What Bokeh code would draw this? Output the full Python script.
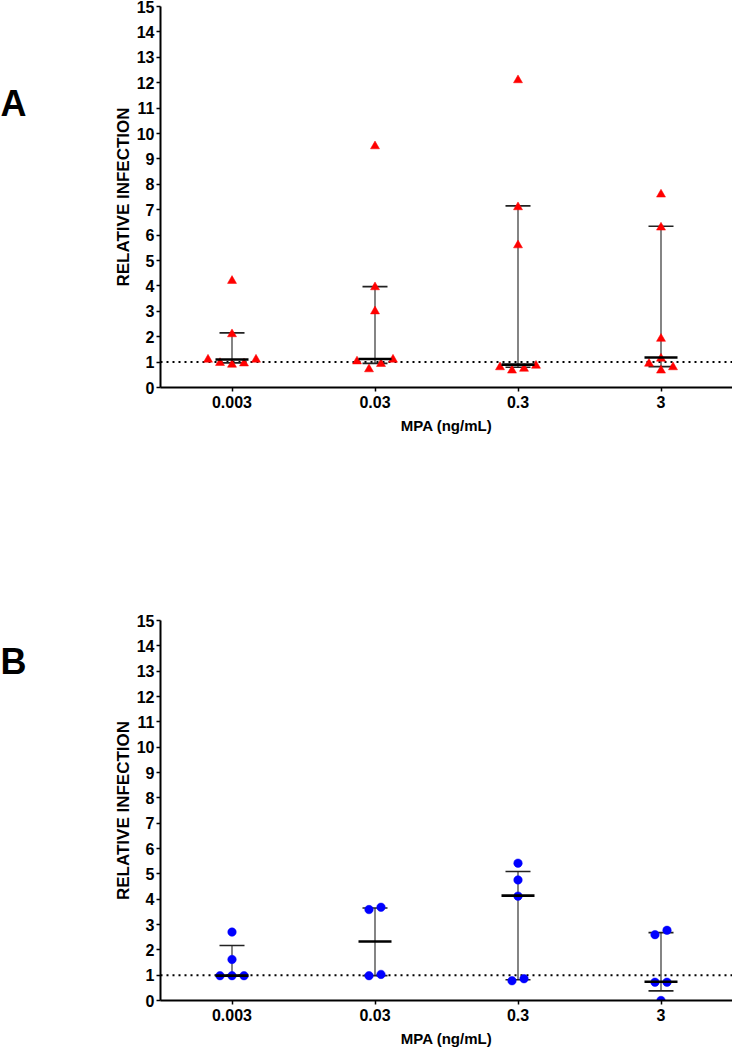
import numpy as np
from bokeh.plotting import figure
from bokeh.models import FixedTicker, Span, Range1d, ColumnDataSource
from bokeh.core.properties import value
from bokeh.layouts import column, row
from bokeh.embed import file_html
from bokeh.resources import INLINE

# ---------------- data ----------------
categories = ["0.003", "0.03", "0.3", "3"]
y_ticks = list(range(0, 16))
baseline = 1.0
panel_letters = ["A", "B"]

# Panel A (triangles): individual values per MPA concentration
a_points = [
    [4.2, 2.1, 1.1, 0.97, 0.9, 0.95, 1.1],
    [9.5, 3.95, 3.0, 1.03, 0.72, 0.93, 1.1],
    [12.1, 7.1, 5.6, 0.8, 0.67, 0.74, 0.86],
    [7.6, 6.3, 1.92, 1.14, 0.94, 0.67, 0.8],
]
a_median = [1.1, 1.12, 0.9, 1.18]
a_q1 = [0.97, 0.95, 0.8, 0.82]
a_q3 = [2.15, 3.97, 7.15, 6.35]

# Panel B (circles)
b_points = [
    [2.7, 1.62, 0.98, 0.98, 0.98],
    [3.68, 3.59, 0.98, 1.03],
    [5.42, 4.76, 4.12, 0.78, 0.86],
    [2.6, 2.77, 0.72, 0.72, 0.0],
]
b_median = [0.98, 2.33, 4.14, 0.74]
b_q1 = [0.98, 0.98, 0.82, 0.38]
b_q3 = [2.17, 3.65, 5.09, 2.68]

# ---------------- layout constants ----------------
FONT = "Liberation Sans"
LETTER_W = 40
LEFT = 120
FRAME_W = 572
X_START, X_END = 0.5, 4.5
PX_PER_X = FRAME_W / (X_END - X_START)
CAP_HALF_PX = 12.5
MED_HALF_PX = 16.5


def swarm_offsets(values, px_per_y, spacing=12.0, thresh=11.0):
    """Simple beeswarm: returns horizontal pixel offsets for each value."""
    n = len(values)
    order = sorted(range(n), key=lambda i: values[i])
    cand = [0.0]
    for k in range(1, 10):
        cand += [k * spacing, -k * spacing]
    placed = {}
    for i in order:
        yi = values[i] * px_per_y
        for c in cand:
            ok = True
            for j, cj in placed.items():
                if np.hypot(c - cj, yi - values[j] * px_per_y) < thresh:
                    ok = False
                    break
            if ok:
                placed[i] = c
                break
    clusters = []
    cur = [order[0]]
    for a, b in zip(order[:-1], order[1:]):
        if (values[b] - values[a]) * px_per_y < thresh:
            cur.append(b)
        else:
            clusters.append(cur)
            cur = [b]
    clusters.append(cur)
    offs = [0.0] * n
    for cl in clusters:
        m = np.mean([placed[i] for i in cl])
        for i in cl:
            offs[i] = placed[i] - m
    return offs


def make_letter(letter, letter_y, frame_h, top_border, bottom_border):
    f = figure(frame_width=LETTER_W, frame_height=frame_h,
               x_range=Range1d(0, 1), y_range=Range1d(0, 15),
               x_axis_type=None, y_axis_type=None,
               output_backend="svg", toolbar_location=None,
               min_border_left=0, min_border_right=0,
               min_border_top=top_border, min_border_bottom=bottom_border)
    f.outline_line_color = None
    f.text(x=[0], y=[letter_y], text=[letter], text_font=value(FONT),
           text_font_style="bold", text_font_size="36px", text_color="black",
           text_baseline="middle", text_align="left")
    return f


def make_panel(points, med, q1, q3, marker, color, msize,
               frame_h, top_border, bottom_border):
    p = figure(frame_width=FRAME_W, frame_height=frame_h,
               x_range=Range1d(X_START, X_END), y_range=Range1d(0, 15),
               output_backend="svg", toolbar_location=None,
               min_border_left=LEFT, min_border_right=0,
               min_border_top=top_border, min_border_bottom=bottom_border)
    p.outline_line_color = None
    p.xgrid.visible = False
    p.ygrid.visible = False
    p.background_fill_color = "white"

    px_per_y = frame_h / 15.0
    xs, ys = [], []
    for ci, vals in enumerate(points):
        offs = swarm_offsets(vals, px_per_y)
        for v, o in zip(vals, offs):
            xs.append(ci + 1 + o / PX_PER_X)
            ys.append(v)

    centers = [i + 1 for i in range(len(categories))]
    cap_h = CAP_HALF_PX / PX_PER_X
    med_h = MED_HALF_PX / PX_PER_X

    p.add_layout(Span(location=baseline, dimension="width", line_color="black",
                      line_width=2, line_dash="2 4", level="underlay"))

    err = ColumnDataSource(dict(
        x=centers, q1=q1, q3=q3, med=med,
        xl=[c - cap_h for c in centers], xr=[c + cap_h for c in centers],
        ml=[c - med_h for c in centers], mr=[c + med_h for c in centers]))
    p.segment(x0="x", y0="q1", x1="x", y1="q3", source=err,
              line_color="#333333", line_width=1.2)
    p.segment(x0="xl", y0="q3", x1="xr", y1="q3", source=err,
              line_color="#222222", line_width=1.6)
    p.segment(x0="xl", y0="q1", x1="xr", y1="q1", source=err,
              line_color="#222222", line_width=1.6)

    pts = ColumnDataSource(dict(x=xs, y=ys))
    p.scatter(x="x", y="y", source=pts, marker=marker, size=msize,
              fill_color=color, line_color=color, line_width=0.5)

    p.segment(x0="ml", y0="med", x1="mr", y1="med", source=err,
              line_color="black", line_width=2.6)

    for ax in (p.xaxis[0], p.yaxis[0]):
        ax.axis_line_width = 2
        ax.axis_line_color = "black"
        ax.major_tick_line_width = 1.5
        ax.major_tick_line_color = "black"
        ax.major_tick_in = 0
        ax.major_tick_out = 4
        ax.minor_tick_line_color = None
        ax.major_label_text_font = FONT
        ax.major_label_text_font_style = "bold"
        ax.major_label_text_color = "black"
        ax.axis_label_text_font = FONT
        ax.axis_label_text_font_style = "bold"
        ax.axis_label_text_color = "black"

    p.xaxis.ticker = FixedTicker(ticks=centers)
    p.xaxis.major_label_overrides = {c: lab for c, lab in zip(centers, categories)}
    p.xaxis.major_label_text_font_size = "16px"
    p.xaxis.major_label_standoff = 4
    p.xaxis.axis_label = "MPA (ng/mL)"
    p.xaxis.axis_label_text_font_size = "15px"
    p.xaxis.axis_label_standoff = 6

    p.yaxis.ticker = FixedTicker(ticks=y_ticks)
    p.yaxis.major_label_text_font_size = "16px"
    p.yaxis.major_label_standoff = 2
    p.yaxis.axis_label = "RELATIVE INFECTION"
    p.yaxis.axis_label_text_font_size = "17px"
    p.yaxis.axis_label_standoff = 1
    p.yaxis.bounds = (0, 15)
    return p


A_FH, A_TOP, A_BOT = 381, 6, 49
B_FH, B_TOP, B_BOT = 380, 184, 49

la = make_letter(panel_letters[0], 11.2, A_FH, A_TOP, A_BOT)
pa = make_panel(a_points, a_median, a_q1, a_q3, "triangle", "#FF0000", 9,
                A_FH, A_TOP, A_BOT)
lb = make_letter(panel_letters[1], 13.4, B_FH, B_TOP, B_BOT)
pb = make_panel(b_points, b_median, b_q1, b_q3, "circle", "#0000FF", 8.5,
                B_FH, B_TOP, B_BOT)

layout = column(row(la, pa, spacing=0), row(lb, pb, spacing=0), spacing=0)
open("out.html", "w").write(file_html(layout, INLINE))
